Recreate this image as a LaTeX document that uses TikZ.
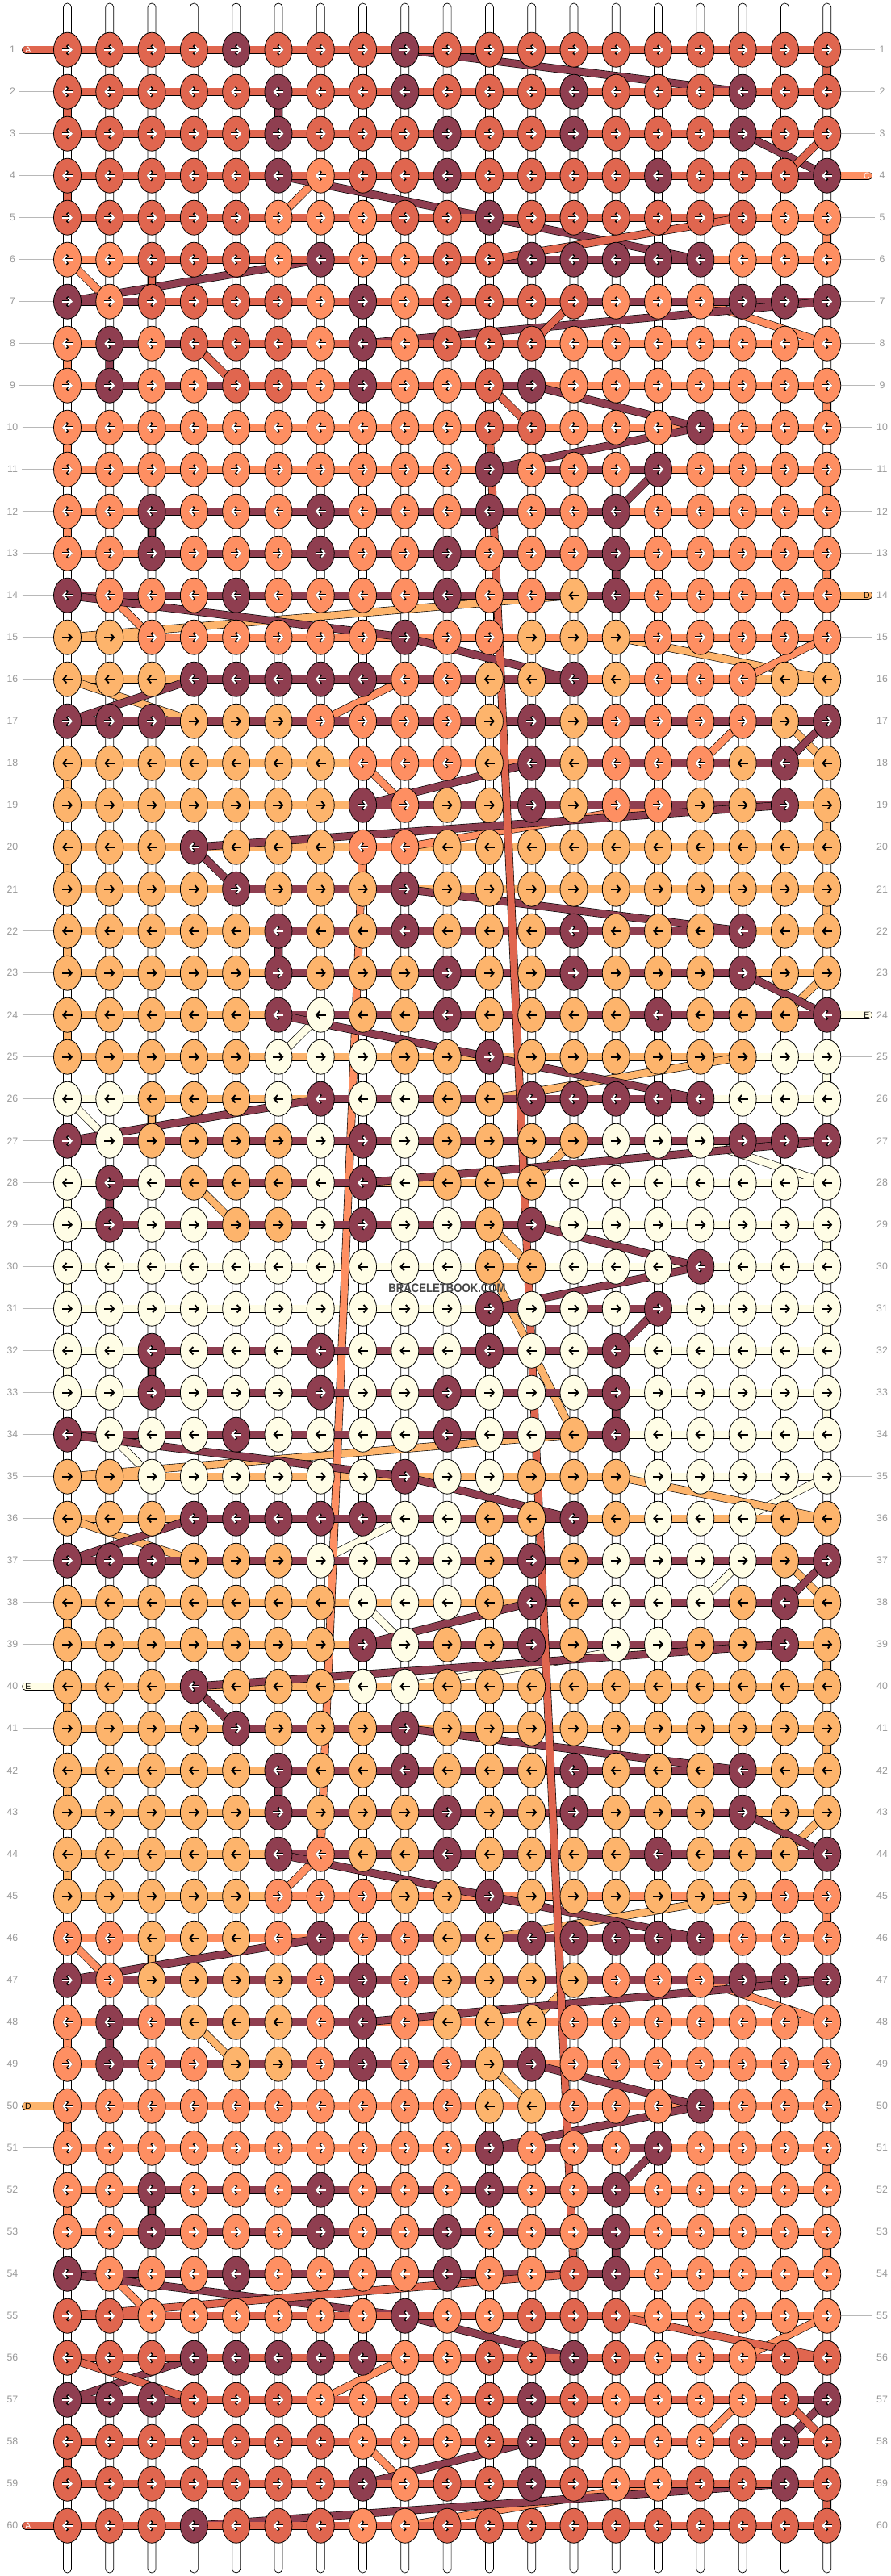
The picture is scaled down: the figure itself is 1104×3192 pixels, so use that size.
\documentclass[tikz,border=0pt]{standalone}
\usepackage{fontspec}
\setmainfont{Liberation Sans}
\usetikzlibrary{shapes.geometric,arrows.meta}
\definecolor{colR}{HTML}{E0664F}
\definecolor{colO}{HTML}{FE8F62}
\definecolor{colY}{HTML}{FDB46C}
\definecolor{colW}{HTML}{FFFDE6}
\definecolor{colD}{HTML}{8F3E50}
\pgfdeclarelayer{tubes}
\pgfdeclarelayer{strands}
\pgfsetlayers{tubes,strands,main}
\tikzset{
  knot/.style={ellipse, draw=black, line width=0.45pt, minimum width=0.68cm, minimum height=0.86cm, inner sep=0pt},
  basestring/.style={draw=black, fill=white, line width=0.4pt, rounded corners=0.1cm},
  strand/.style={draw=black, line width=0.35pt, double=#1, double distance=0.175cm, line cap=round},
  arrowblack/.style={draw=black, line width=1.1pt, -{Straight Barb[length=2.4pt,width=5.4pt]}},
  arrowwhite/.style={draw=white, line width=1.1pt, -{Straight Barb[length=2.4pt,width=5.4pt]},
    preaction={draw=black, line width=1.8pt, -{Straight Barb[length=2.8pt,width=6.4pt]}}},
  rowlabel/.style={text=black!40, font=\fontsize{7}{8}\selectfont, inner sep=1pt, outer sep=2pt},
  rowline/.style={draw=black!28, line width=0.5pt},
  tubetag/.style={font=\fontsize{6}{7}\selectfont, inner sep=0pt},
  watermark/.style={text=black!72, font=\bfseries\fontsize{8.7}{9}\selectfont, inner sep=0pt}
}
% colours of the three blocks of 20 rows
\def\setpal#1#2#3#4{%
  \expandafter\def\csname pal-#1-p\endcsname{#2}%
  \expandafter\def\csname pal-#1-s\endcsname{#3}%
  \expandafter\def\csname pal-#1-t\endcsname{#4}%
  \expandafter\def\csname pal-#1-d\endcsname{D}}
\setpal{0}{R}{O}{Y}
\setpal{1}{Y}{W}{Y}
\setpal{2}{Y}{O}{R}
\def\arrR{arrowwhite}\def\arrO{arrowwhite}\def\arrD{arrowwhite}
\def\arrY{arrowblack}\def\arrW{arrowblack}
\def\strandends#1#2#3{%
  \expandafter\def\csname sin-#1\endcsname{#2}%
  \expandafter\def\csname sout-#1\endcsname{#3}}
\strandends{R}{inA}{outA}
\strandends{D}{}{}
\strandends{O}{inC}{}
\strandends{Y}{inD}{outD}
\strandends{W}{inE}{outE}
\newcount\colcnt
\def\parsecols#1{%
  \ifx#1\relax\else
    \global\advance\colcnt by 1
    \edef\kcol{\csname pal-\blkno-#1\endcsname}%
    \expandafter\xdef\csname kc-\rowno-\the\colcnt\endcsname{\kcol}%
    \expandafter\ifx\csname mn-\rowno-\kcol\endcsname\relax
      \expandafter\xdef\csname mn-\rowno-\kcol\endcsname{\the\colcnt}%
    \fi
    \expandafter\xdef\csname mx-\rowno-\kcol\endcsname{\the\colcnt}%
    \expandafter\parsecols
  \fi}
\newcommand\setrow[3]{\edef\rowno{#1}\edef\blkno{#2}\global\colcnt=0 \expandafter\parsecols#3\relax}

\begin{document}
\begin{tikzpicture}[x=0.02cm,y=-0.02cm]
  \useasboundingbox (0,0) rectangle (1104,3192);
  \foreach \blk in {0,1,2}{
    \foreach \tr/\tpl in {1/ppppdpppdpppppppppp,
                          2/pppppdppdpppdpppdpp,
                          3/pppppdpppdppdpppdpp,
                          4/pppppdsppdppppdpppd,
                          5/pppppsssppdppppppss,
                          6/sspppsdssppdddddsss,
                          7/dsppppsdsppppsssddd,
                          8/sdspppsdspppsssssss,
                          9/sdssppsdsspdsssssss,
                          10/ssssssssssppsssdsss,
                          11/ssssssssssdsssdssss,
                          12/ssdsssdsssdssdsssss,
                          13/ssdsssdssdsssdsssss,
                          14/dsssdssssdsstdsssss,
                          15/ttssssssdsstttsssss,
                          16/tttdddddssttdtssstt,
                          17/dddtttsssstdtsssstd,
                          18/tttttttssstdtssstdt,
                          19/tttttttdsttdtssttdt,
                          20/tttdtttsstttttttttt}{
      \pgfmathtruncatemacro\rownum{20*\blk+\tr}
      \setrow{\rownum}{\blk}{\tpl}
    }
  }
  % knots
  \foreach \rw in {1,...,60}{
    \foreach \cl in {1,...,19}{
      \edef\kc{\csname kc-\rw-\cl\endcsname}
      \edef\ac{\csname arr\kc\endcsname}
      \node[knot, fill=col\kc] (k-\rw-\cl) at ({83.5+52.29*(\cl-1)},{61.7+52*(\rw-1)}) {};
      \ifodd\rw\relax
        \draw[\ac] ([xshift=-0.13cm]k-\rw-\cl.center) -- ([xshift=0.13cm]k-\rw-\cl.center);
      \else
        \draw[\ac] ([xshift=0.13cm]k-\rw-\cl.center) -- ([xshift=-0.13cm]k-\rw-\cl.center);
      \fi
    }
    \node[rowlabel] (ll-\rw) at (15.5,{61.7+52*(\rw-1)}) {\rw};
    \node[rowlabel] (rl-\rw) at (1093,{61.7+52*(\rw-1)}) {\rw};
  }
  \coordinate (inA) at (32,61.7);
  \coordinate (inC) at (1076,217.7);
  \coordinate (inD) at (1076,737.7);
  \coordinate (inE) at (1076,1257.7);
  \coordinate (outE) at (32,2089.7);
  \coordinate (outD) at (32,2609.7);
  \coordinate (outA) at (32,3129.7);
  \begin{pgfonlayer}{tubes}
    \fill[white] (0,0) rectangle (1104,3192);
    \foreach \cl in {1,...,19}
      \draw[basestring] ({78.5+52.29*(\cl-1)},4) rectangle ({88.5+52.29*(\cl-1)},3188);
    \foreach \rw in {2,...,39,41,...,49,51,...,59}
      \draw[rowline] (ll-\rw) -- (k-\rw-1);
    \foreach \rw in {1,2,3,5,6,...,13,15,...,23,25,...,60}
      \draw[rowline] (k-\rw-19) -- (rl-\rw);
  \end{pgfonlayer}
  % working strings, lowest first
  \begin{pgfonlayer}{strands}
    \foreach \scol in {W,Y,O,D,R}{
      \xdef\prevexit{\csname sin-\scol\endcsname}
      \foreach \rw in {1,...,60}{
        \ifcsname mn-\rw-\scol\endcsname
          \edef\spanlo{\csname mn-\rw-\scol\endcsname}
          \edef\spanhi{\csname mx-\rw-\scol\endcsname}
          \ifodd\rw\relax \let\enterc\spanlo \let\leavec\spanhi
          \else \let\enterc\spanhi \let\leavec\spanlo \fi
          \ifx\prevexit\empty\else
            \draw[strand=col\scol] (\prevexit) -- (k-\rw-\enterc.center);
          \fi
          \ifx\spanlo\spanhi\else
            \draw[strand=col\scol] (k-\rw-\spanlo.center) -- (k-\rw-\spanhi.center);
          \fi
          \xdef\prevexit{k-\rw-\leavec.center}
        \fi
      }
      \edef\endpt{\csname sout-\scol\endcsname}
      \ifx\endpt\empty\else
        \draw[strand=col\scol] (\prevexit) -- (\endpt);
      \fi
    }
  \end{pgfonlayer}
  \node[tubetag, text=white] (tagA) at (35,61.7) {A};
  \node[tubetag, text=white] (tagC) at (1074,217.7) {C};
  \node[tubetag] (tagD) at (1074,737.7) {D};
  \node[tubetag] (tagE) at (1074,1257.7) {E};
  \node[tubetag] (tagEend) at (35,2089.7) {E};
  \node[tubetag] (tagDend) at (35,2609.7) {D};
  \node[tubetag, text=white] (tagAend) at (35,3129.7) {A};
  \node[watermark] (mark) at (554,1596) {\scalebox{0.86}[1]{BRACELETBOOK.COM}};
\end{tikzpicture}
\end{document}
